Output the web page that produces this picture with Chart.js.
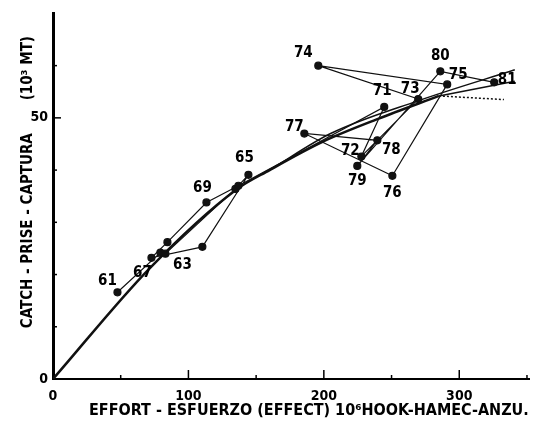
<!DOCTYPE html>
<html>
<head>
<meta charset="utf-8">
<script src="https://cdn.jsdelivr.net/npm/chart.js@4"></script>
<style>
html,body{margin:0;padding:0;background:#fff;}
#wrap{width:536px;height:431px;}
</style>
</head>
<body>
<div id="wrap"><canvas id="cpue"></canvas></div>
<script>
// yearly points (effort, catch)
const years = [61,62,63,64,65,66,67,68,69,70,71,72,73,74,75,76,77,78,79,80,81];
const labeledYears = [61,63,65,67,69,71,72,73,74,75,76,77,78,79,80,81];
const effort = [47.6,79.3,83.0,134.7,144.3,110.3,72.7,84.5,113.3,136.9,244.6,227.7,269.7,195.9,291.1,250.6,185.6,239.5,224.7,286.0,325.8];
const catchT = [16.6,24.2,24.0,36.4,39.1,25.3,23.2,26.2,33.8,37.0,52.1,42.6,53.6,60.0,56.4,38.9,47.0,45.7,40.8,58.9,56.8];

// fitted curves
const modelEffort = [0,71,135,160,199,240,285];
const modelCatch = [0,21.1,36.2,40.0,45.4,49.8,54.2];
const modelTailEffort = [285,333];
const modelTailCatch = [54.2,53.5];
const lineAEffort = [160,205,270,341];
const lineACatch = [40.0,47.0,53.3,59.2];
const lineBEffort = [285,341];
const lineBCatch = [54.2,57.0];

const xTickValues = [0,50,100,150,200,250,300,350];
const xTicks = [0,100,200,300];
const yTickValues = [0,10,20,30,40,50,60,70];
const yTicks = [0,50];

const FONT = "'Liberation Sans Narrow','DejaVu Sans Condensed',sans-serif";

function pts(xs, ys){ return xs.map((x,i)=>({x:x, y:ys[i]})); }

// where each year label sits relative to its dot
const labelOffsets = {
61:[-10,-11],63:[17,11],65:[-4,-17],67:[-9,15],69:[-4,-14],71:[-2,-16],
72:[-11,-5],73:[-8,-10],74:[-15,-13],75:[11,-9],76:[0,17],77:[-10,-6],
78:[14,10],79:[0,15],80:[0,-15],81:[13,-2]
};

const yearLabels = {
id:'yearLabels',
afterDatasetsDraw(chart){
const c = chart.ctx;
const meta = chart.getDatasetMeta(0);
c.save();
c.font = "bold 15px " + FONT;
c.fillStyle = '#000';
c.textAlign = 'center';
c.textBaseline = 'middle';
years.forEach((yr,i)=>{
if(labeledYears.indexOf(yr) < 0) return;
const p = meta.data[i];
const o = labelOffsets[yr] || [0,-14];
c.fillText(String(yr), p.x + o[0], p.y + o[1]);
});
c.restore();
}
};

// short tick marks pointing into the plot
const innerTicks = {
id:'innerTicks',
afterDraw(chart){
const c = chart.ctx;
const xs = chart.scales.x, ys = chart.scales.y;
const y0 = ys.getPixelForValue(0), x0 = xs.getPixelForValue(0);
c.save();
c.strokeStyle = '#000';
c.lineWidth = 1.5;
xTickValues.forEach(v=>{
if(v===0) return;
const px = xs.getPixelForValue(v);
const len = v%100===0 ? 9 : 4;
c.beginPath(); c.moveTo(px,y0); c.lineTo(px,y0-len); c.stroke();
});
yTickValues.forEach(v=>{
if(v===0 || v>=70) return;
const py = ys.getPixelForValue(v);
const len = v===50 ? 8 : 4;
c.beginPath(); c.moveTo(x0,py); c.lineTo(x0+len,py); c.stroke();
});
c.restore();
}
};

const ctx = document.getElementById('cpue');

new Chart(ctx, {
type:'scatter',
data:{
datasets:[
{
data:pts(effort,catchT),
showLine:true,
borderColor:'#111',
borderWidth:1.2,
pointRadius:3.5,
pointBackgroundColor:'#111',
pointBorderColor:'#111',
tension:0
},
{
data:pts(modelEffort,modelCatch),
showLine:true,
borderColor:'#111',
borderWidth:2.5,
pointRadius:0,
cubicInterpolationMode:'monotone'
},
{
data:pts(modelTailEffort,modelTailCatch),
showLine:true,
borderColor:'#111',
borderWidth:1.5,
borderDash:[2,2],
pointRadius:0
},
{
data:pts(lineAEffort,lineACatch),
showLine:true,
borderColor:'#111',
borderWidth:1.5,
pointRadius:0,
cubicInterpolationMode:'monotone'
},
{
data:pts(lineBEffort,lineBCatch),
showLine:true,
borderColor:'#111',
borderWidth:1.5,
pointRadius:0
}
]
},
options:{
responsive:true,
maintainAspectRatio:false,
animation:false,
layout:{padding:{top:8,right:0,left:0,bottom:0}},
plugins:{
legend:{display:false},
tooltip:{enabled:false}
},
scales:{
x:{
type:'linear',
min:0,
max:352,
afterFit(s){ s.height = 52; },
afterBuildTicks(s){ s.ticks = xTickValues.map(v=>({value:v})); },
grid:{display:false,drawTicks:false},
border:{display:true,color:'#000',width:2},
ticks:{
autoSkip:false,
maxRotation:0,
color:'#000',
padding:9,
font:{family:FONT,size:14,weight:'bold'},
callback:(v)=> xTicks.indexOf(v) >= 0 ? String(v) : ''
},
title:{
display:true,
text:'       EFFORT - ESFUERZO (EFFECT) 10⁶HOOK-HAMEC-ANZU.',
color:'#000',
font:{family:FONT,size:16,weight:'bold'},
padding:{top:0,bottom:11}
}
},
y:{
min:0,
max:70,
afterFit(s){ s.width = 53; },
afterBuildTicks(s){ s.ticks = yTickValues.map(v=>({value:v})); },
grid:{display:false,drawTicks:false},
border:{display:true,color:'#000',width:3},
ticks:{
autoSkip:false,
color:'#000',
padding:5,
font:{family:FONT,size:14,weight:'bold'},
callback:(v)=> yTicks.indexOf(v) >= 0 ? String(v) : ''
},
title:{
display:true,
text:'      CATCH - PRISE - CAPTURA       (10³ MT)',
color:'#000',
font:{family:FONT,size:15,weight:'bold'},
padding:{top:19,bottom:0}
}
}
}
},
plugins:[yearLabels,innerTicks]
});
</script>
</body>
</html>
